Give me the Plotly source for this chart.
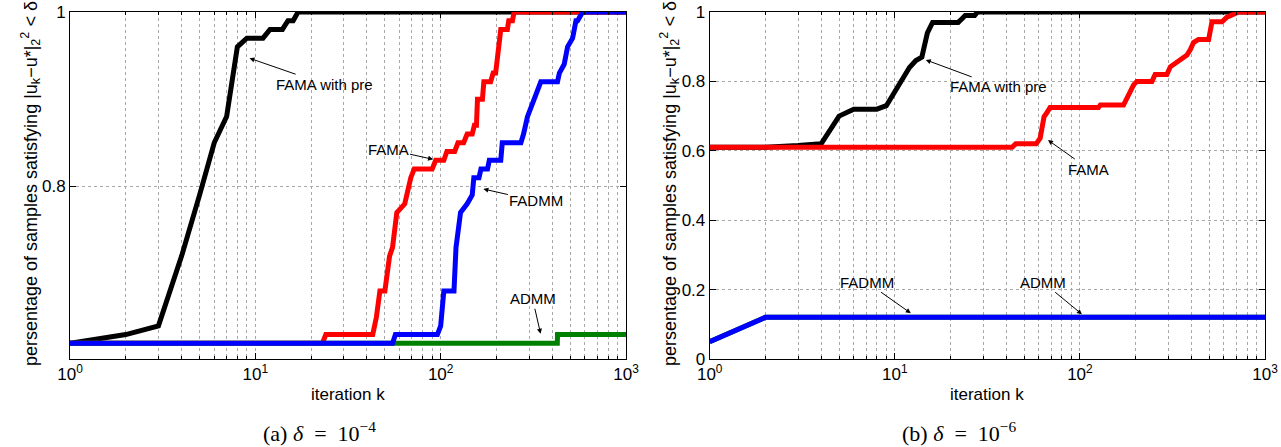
import math
import plotly.graph_objects as go

# ---------------- data: (a) delta = 1e-4 ----------------
a_pre_k = [1, 2, 3, 4, 5, 6, 7, 8, 9, 10, 11, 12, 13, 14, 15, 16, 17, 1000]
a_pre_v = [0.62, 0.63, 0.64, 0.72, 0.79, 0.85, 0.88, 0.96, 0.97, 0.97, 0.97, 0.98, 0.98, 0.98, 0.99, 0.99, 1.0, 1.0]

a_fama_k = [1, 23, 24, 43, 45, 47, 50, 53, 55, 58, 61, 64, 69, 70, 72, 90, 94, 104, 108, 119, 124, 133, 139,
            148, 152, 156, 158, 168, 171, 186, 192, 198, 207, 211, 229, 233, 244, 249, 1000]
a_fama_v = [0.62, 0.62, 0.63, 0.63, 0.65, 0.68, 0.68, 0.72, 0.73, 0.77, 0.775, 0.78, 0.81, 0.815, 0.82, 0.82, 0.83, 0.83, 0.84, 0.84, 0.85, 0.85, 0.86,
            0.86, 0.87, 0.87, 0.90, 0.90, 0.92, 0.92, 0.93, 0.93, 0.96, 0.98, 0.98, 0.99, 0.99, 1.0, 1.0]

a_fadmm_k = [1, 55, 57, 96, 100, 104, 118, 121, 128, 139, 148, 151, 161, 165, 179, 183, 211, 215, 271, 280, 294,
             319, 333, 347, 427, 437, 464, 484, 515, 537, 548, 583, 1000]
a_fadmm_v = [0.62, 0.62, 0.63, 0.63, 0.64, 0.68, 0.68, 0.73, 0.77, 0.78, 0.79, 0.81, 0.81, 0.82, 0.82, 0.83, 0.83, 0.85, 0.85, 0.86, 0.88,
             0.90, 0.91, 0.92, 0.92, 0.93, 0.94, 0.96, 0.97, 0.99, 0.99, 1.0, 1.0]

a_admm_k = [1, 426, 427, 1000]
a_admm_v = [0.62, 0.62, 0.63, 0.63]

# ---------------- data: (b) delta = 1e-6 ----------------
b_pre_k = [1, 2, 3, 4, 5, 6, 7, 8, 9, 10, 11, 12, 13, 14, 15, 16, 17, 18, 19, 20, 21, 22, 23, 24, 25, 26, 27, 28, 1000]
b_pre_v = [0.61, 0.61, 0.615, 0.62, 0.70, 0.72, 0.72, 0.72, 0.73, 0.77, 0.81, 0.84, 0.86, 0.87, 0.94, 0.97,
           0.97, 0.97, 0.97, 0.97, 0.97, 0.97, 0.98, 0.99, 0.99, 0.99, 0.99, 1.0, 1.0]

b_fama_k = [1, 43, 45, 58, 61, 64, 66, 69, 126, 129, 172, 179, 195, 203, 245, 255, 295, 308, 327, 349, 379, 395,
            411, 437, 496, 517, 586, 623, 676, 720, 1000]
b_fama_v = [0.61, 0.61, 0.62, 0.62, 0.636, 0.698, 0.708, 0.725, 0.725, 0.732, 0.732, 0.751, 0.79, 0.80, 0.80, 0.82, 0.82, 0.842, 0.852, 0.862, 0.876, 0.892,
            0.912, 0.921, 0.921, 0.972, 0.972, 0.985, 0.994, 1.0, 1.0]

b_fadmm_k = [1, 2, 1000]
b_fadmm_v = [0.05, 0.12, 0.12]

b_admm_k = [1, 2, 1000]
b_admm_v = [0.05, 0.12, 0.12]

x_major = [1, 10, 100, 1000]
x_major_text = ["10<sup>0</sup>", "10<sup>1</sup>", "10<sup>2</sup>", "10<sup>3</sup>"]
x_minor = [m * d for d in (1, 10, 100) for m in range(2, 10)]
a_yticks = [0.8, 1.0]
a_yticktext = ["0.8", "1"]
b_yticks = [0, 0.2, 0.4, 0.6, 0.8, 1.0]
b_yticktext = ["0", "0.2", "0.4", "0.6", "0.8", "1"]

W, H = 1281, 447
BLACK, RED, GREEN, BLUE = "#000000", "#ff0000", "#008000", "#0000ff"
LW = 5
SANS = "Liberation Sans, Arial, Helvetica, sans-serif"
SERIF = "Liberation Serif, Times New Roman, serif"

fig = go.Figure()

def add(xk, yv, color, xa, ya):
    fig.add_trace(go.Scatter(x=xk, y=yv, mode="lines", line=dict(color=color, width=LW),
                             xaxis=xa, yaxis=ya, showlegend=False, hoverinfo="skip"))

for k, v, c in [(a_pre_k, a_pre_v, BLACK), (a_fama_k, a_fama_v, RED),
                (a_admm_k, a_admm_v, GREEN), (a_fadmm_k, a_fadmm_v, BLUE)]:
    add(k, v, c, "x", "y")
for k, v, c in [(b_pre_k, b_pre_v, BLACK), (b_fama_k, b_fama_v, RED),
                (b_admm_k, b_admm_v, GREEN), (b_fadmm_k, b_fadmm_v, BLUE)]:
    add(k, v, c, "x2", "y2")

def px_x(p):
    return p / W

def px_y(p):
    return (H - p) / H

TOP, BOT = 12, 359
ydom = [px_y(BOT), px_y(TOP)]
GRID = "#a8a8a8"
DEC = (626 - 70) / 3.0  # pixels per decade

def xaxis(dom, anchor):
    return dict(type="log", range=[0, 3], domain=dom, anchor=anchor, automargin=False,
                tickmode="array", tickvals=x_major, ticktext=x_major_text,
                ticks="inside", ticklen=6, tickcolor="black", tickwidth=1,
                showline=True, linecolor="black", linewidth=1, mirror="ticks",
                showgrid=True, gridcolor=GRID, griddash="dot", gridwidth=1,
                minor=dict(tickvals=x_minor, ticks="inside", ticklen=3, tickcolor="black",
                           showgrid=True, gridcolor=GRID, griddash="dot", gridwidth=1),
                tickfont=dict(family=SANS, size=17, color="black"), zeroline=False)

def yaxis(rng, tv, tt, anchor):
    return dict(range=rng, domain=ydom, anchor=anchor, automargin=False,
                tickmode="array", tickvals=tv, ticktext=tt,
                ticks="inside", ticklen=6, tickcolor="black", tickwidth=1,
                showline=True, linecolor="black", linewidth=1, mirror="ticks",
                showgrid=True, gridcolor=GRID, griddash="dot", gridwidth=1,
                tickfont=dict(family=SANS, size=17, color="black"), zeroline=False)

A_YR = [0.602, 1.0]
B_YR = [0.0, 1.0]

fig.update_layout(
    width=W, height=H, margin=dict(l=0, r=0, t=0, b=0, autoexpand=False),
    paper_bgcolor="white", plot_bgcolor="white", showlegend=False,
    xaxis=xaxis([px_x(70), px_x(626)], "y"),
    yaxis=yaxis(A_YR, a_yticks, a_yticktext, "x"),
    xaxis2=xaxis([px_x(709.7), px_x(1265)], "y2"),
    yaxis2=yaxis(B_YR, b_yticks, b_yticktext, "x2"),
)

ann = []

def arrow(text, k, v, dx, dy, xr, yr, yrng):
    ppu = (BOT - TOP) / (yrng[1] - yrng[0])
    tx = math.log10(k)
    ann.append(dict(x=tx, y=v, xref=xr, yref=yr, axref=xr, ayref=yr,
                    ax=tx + dx / DEC, ay=v - dy / ppu,
                    text=text, showarrow=True,
                    arrowhead=2, arrowsize=1, arrowwidth=1, arrowcolor="black",
                    font=dict(family=SANS, size=15, color="black")))

arrow("FAMA with pre", 9.3, 0.947, 75, 26, "x", "y", A_YR)
arrow("FAMA", 91, 0.831, -45, -10, "x", "y", A_YR)
arrow("FADMM", 170, 0.797, 53, 12, "x", "y", A_YR)
arrow("ADMM", 346, 0.631, -8, -35, "x", "y", A_YR)

arrow("FAMA with pre", 14.7, 0.862, 73, 27, "x2", "y2", B_YR)
arrow("FAMA", 67.2, 0.631, 41, 29, "x2", "y2", B_YR)
arrow("FADMM", 12.2, 0.132, -44, -31, "x2", "y2", B_YR)
arrow("ADMM", 102.6, 0.129, -39, -32, "x2", "y2", B_YR)

ylabel = "persentage of samples satisfying |u<sub>k</sub>−u*|<sub>2</sub><sup>2</sup> &lt; δ"
for xc in (30, 669):
    ann.append(dict(x=px_x(xc), y=px_y(184), xref="paper", yref="paper", text=ylabel,
                    textangle=-90, showarrow=False, xanchor="center", yanchor="middle",
                    font=dict(family=SANS, size=18, color="black")))

for xc in ((70 + 626) / 2, (709.7 + 1265) / 2):
    ann.append(dict(x=px_x(xc), y=px_y(394), xref="paper", yref="paper", text="iteration k",
                    showarrow=False, xanchor="center", yanchor="middle",
                    font=dict(family=SANS, size=17, color="black")))

for xc, lab, ex in ((319.5, "a", "4"), (959, "b", "6")):
    ann.append(dict(x=px_x(xc), y=px_y(432), xref="paper", yref="paper",
                    text="(" + lab + ")&nbsp;<i>δ</i>&nbsp;&nbsp;=&nbsp;&nbsp;10<sup>−" + ex + "</sup>",
                    showarrow=False, xanchor="center", yanchor="middle",
                    font=dict(family=SERIF, size=22, color="black")))

fig.update_layout(annotations=ann)
fig.write_html("out.html", config={"displayModeBar": False},
               post_script="document.body.style.margin='0';document.body.style.overflow='hidden';")
